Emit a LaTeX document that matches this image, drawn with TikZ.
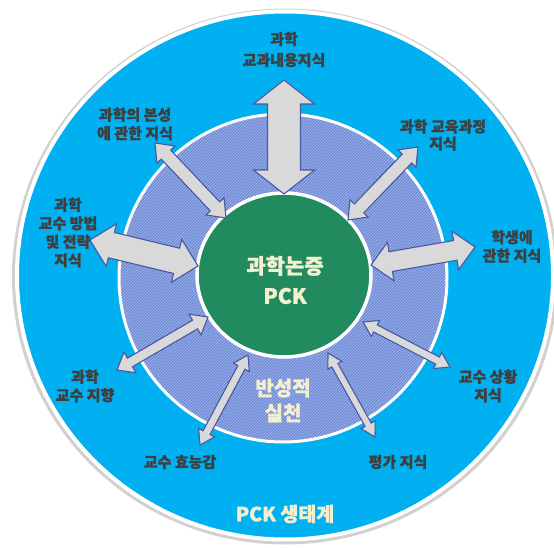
\documentclass[tikz,border=0pt]{standalone}
\usepackage{fontspec}
\newfontfamily\kr{Noto Sans CJK KR}[BoldFeatures={FakeBold=1.2}]
\usetikzlibrary{calc,patterns}
\definecolor{skyb}{HTML}{00B0F0}
\definecolor{ringb}{HTML}{6F8CD8}
\definecolor{ringl}{HTML}{A9BBEC}
\definecolor{pckg}{HTML}{218B5F}
\definecolor{arrf}{HTML}{D9D9D9}
\definecolor{arrd}{HTML}{4A58A0}
\definecolor{labt}{HTML}{3F3F3F}
\definecolor{cream}{HTML}{F3EFCF}
\newcommand{\blkarrow}[5]{%
  \coordinate (#1h) at ($(#1)!#5!(#2)$);
  \coordinate (#2h) at ($(#2)!#5!(#1)$);
  \draw[blkarr] (#1)
    -- ($(#1h)!#4!90:(#2)$)
    -- ($(#1h)!#3!90:(#2)$)
    -- ($(#2h)!#3!-90:(#1)$)
    -- ($(#2h)!#4!-90:(#1)$)
    -- (#2)
    -- ($(#2h)!#4!90:(#1)$)
    -- ($(#2h)!#3!90:(#1)$)
    -- ($(#1h)!#3!-90:(#2)$)
    -- ($(#1h)!#4!-90:(#2)$)
    -- cycle;}
\begin{document}
\begin{tikzpicture}[x=1pt,y=-1pt,
  blkarr/.style={fill=arrf, draw=arrd, line width=1.1pt, line join=miter},
  lbl/.style={text=labt, align=center, inner sep=0pt, font=\kr\bfseries\fontsize{15}{18.5}\selectfont},
  ctext/.style={text=cream, align=center, inner sep=0pt, font=\kr\bfseries\fontsize{21}{30}\selectfont}]
\useasboundingbox (0,0) rectangle (554,548);
% outer ecosystem circle
\fill[black!18] (285,276.5) ellipse [x radius=273, y radius=268];
\filldraw[fill=skyb, draw=white, line width=4pt] (285,275.5) ellipse [x radius=268, y radius=264];
% reflective practice ring
\fill[ringb] (283,278) circle [radius=164];
\fill[pattern=north east lines, pattern color=ringl] (283,278) circle [radius=164];
\draw[white, line width=3pt] (283,278) circle [radius=164];
% PCK core
\filldraw[fill=pckg, draw=white, line width=3.5pt] (284,275) ellipse [x radius=87, y radius=82];
% arrow ends
\coordinate (a1o) at (284,80);  \coordinate (a1i) at (284,194);
\coordinate (a2o) at (90,240);  \coordinate (a2i) at (198,266);
\coordinate (a3o) at (155,143); \coordinate (a3i) at (226,218);
\coordinate (a4o) at (418,147); \coordinate (a4i) at (348,220);
\coordinate (a5o) at (475,247); \coordinate (a5i) at (371,265);
\coordinate (a6o) at (117,370); \coordinate (a6i) at (208,317);
\coordinate (a7o) at (200,445); \coordinate (a7i) at (248,355);
\coordinate (a8o) at (375,437); \coordinate (a8i) at (328,353);
\coordinate (a9o) at (450,367); \coordinate (a9i) at (363,322);
\blkarrow{a1o}{a1i}{16.5pt}{30.5pt}{24pt}
\blkarrow{a2o}{a2i}{13pt}{22pt}{22pt}
\blkarrow{a3o}{a3i}{6.5pt}{12.5pt}{16pt}
\blkarrow{a4o}{a4i}{6.5pt}{12.5pt}{16pt}
\blkarrow{a5o}{a5i}{10pt}{19.5pt}{20pt}
\blkarrow{a6o}{a6i}{5pt}{12pt}{15pt}
\blkarrow{a7o}{a7i}{4pt}{9pt}{14pt}
\blkarrow{a8o}{a8i}{3.5pt}{8pt}{14pt}
\blkarrow{a9o}{a9i}{4pt}{9pt}{14pt}
% texts
\node[ctext] (pck) at (285,280) {과학논증\\PCK};
\node[ctext, font=\kr\bfseries\fontsize{20}{25}\selectfont] (refl) at (283,400.5) {반성적\\실천};
\node[ctext, font=\kr\bfseries\fontsize{19.5}{22}\selectfont] (eco) at (285,514) {PCK 생태계};
\node[lbl, font=\kr\bfseries\fontsize{15}{21}\selectfont] (l1) at (284,49.5) {과학\\교과내용지식};
\node[lbl] (l2) at (135,124) {과학의 본성\\에 관한 지식};
\node[lbl] (l3) at (68,232.5) {과학\\교수 방법\\및 전략\\지식};
\node[lbl, font=\kr\bfseries\fontsize{15}{17}\selectfont] (l4) at (443,135) {과학 교육과정\\지식};
\node[lbl] (l5) at (512,246.5) {학생에\\관한 지식};
\node[lbl] (l6) at (85,386) {과학\\교수 지향};
\node[lbl] (l7) at (180,462) {교수 효능감};
\node[lbl] (l8) at (398,462) {평가 지식};
\node[lbl] (l9) at (488,386) {교수 상황\\지식};
\end{tikzpicture}
\end{document}
